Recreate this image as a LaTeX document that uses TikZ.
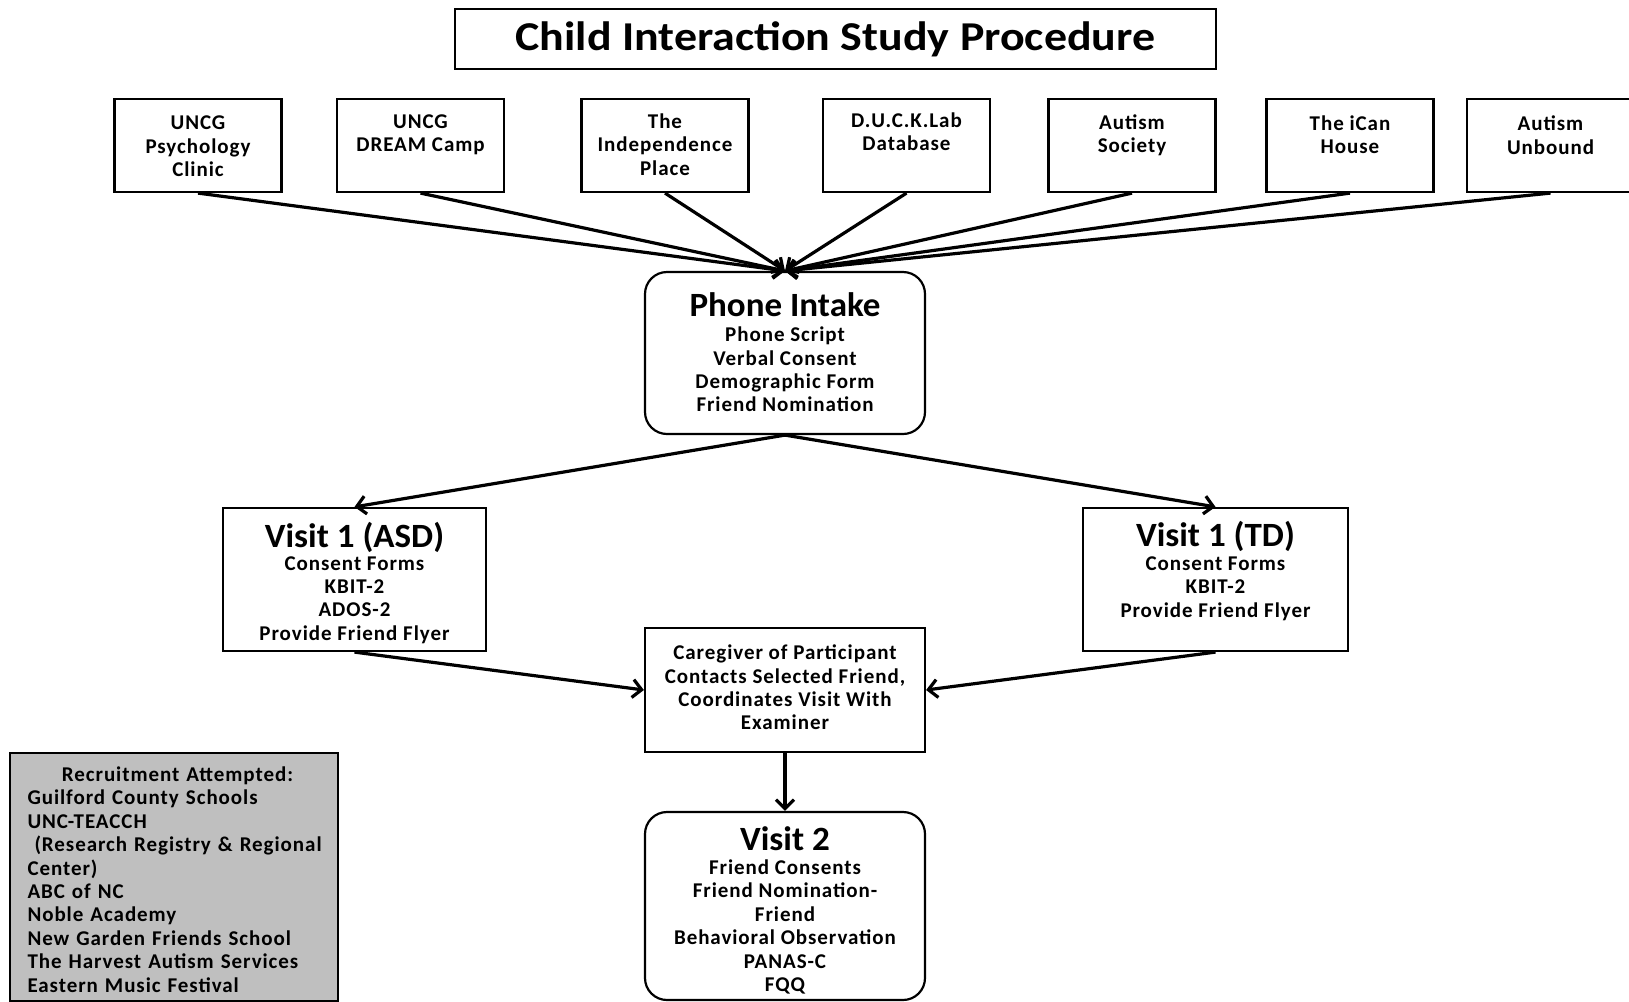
\documentclass[tikz,border=0pt]{standalone}
\usepackage{fontspec}
\setmainfont{Carlito}
\newfontfamily\bodyfont{Carlito}[LetterSpace=4.5]
\newfontfamily\headfont{Carlito}[FakeStretch=1.03]
\newfontfamily\titlefont{Carlito}[FakeStretch=1.12]
\usetikzlibrary{arrows.meta}

\begin{document}
\begin{tikzpicture}[x=0.5pt, y=-0.5pt,
	frame/.style={draw, line width=1.1pt, inner sep=0pt},
	srcbox/.style={frame, minimum width=83.5pt, minimum height=46.5pt},
	roundbox/.style={frame, rounded corners=11pt},
	txt/.style={align=center, inner sep=0pt, font=\bodyfont\bfseries\fontsize{10.5}{11.7}\selectfont},
	head/.style={inner sep=0pt, font=\headfont\bfseries\fontsize{17}{20}\selectfont},
	flow/.style={line width=1.6pt, -{Straight Barb[length=4.5pt,width=9pt]}}]
	\useasboundingbox (0,0) rectangle (1629,1002);
	% title
	\node[frame, minimum width=380.5pt, minimum height=30pt, font=\titlefont\bfseries\fontsize{20.5}{24}\selectfont] (title) at (835.5,39) {Child Interaction Study Procedure};
	% recruitment sources
	\node[srcbox] (clinic) at (198,145.5) {};
	\node[txt] at (198,146.5) {UNCG\\Psychology\\Clinic};
	\node[srcbox] (dream) at (420.5,145.5) {};
	\node[txt] at (420.5,135) {UNCG\\DREAM Camp};
	\node[srcbox] (place) at (665,145.5) {};
	\node[txt] at (665,144.5) {The\\Independence\\Place};
	\node[srcbox] (duck) at (906.5,145.5) {};
	\node[txt] at (906.5,131.5) {D.U.C.K.Lab\\Database};
	\node[srcbox] (society) at (1132,145.5) {};
	\node[txt] at (1132,135) {Autism\\Society};
	\node[srcbox] (ican) at (1350,145.5) {};
	\node[txt] at (1350,134.5) {The iCan\\House};
	\node[srcbox] (unbound) at (1550.5,145.5) {};
	\node[txt] at (1550.5,135) {Autism\\Unbound};
	% phone intake
	\node[roundbox, minimum width=140pt, minimum height=81pt] (intake) at (785,353) {};
	\node[head] at (785,305) {Phone Intake};
	\node[txt] at (785,369.5) {Phone Script\\Verbal Consent\\Demographic Form\\Friend Nomination};
	% first visits
	\node[frame, minimum width=131.5pt, minimum height=71.5pt] (asd) at (354.5,579.5) {};
	\node[head] at (354.5,537) {Visit 1 (ASD)};
	\node[txt] at (354.5,600) {Consent Forms\\KBIT-2\\ADOS-2\\Provide Friend Flyer};
	\node[frame, minimum width=132.5pt, minimum height=71.5pt] (td) at (1215.5,579.5) {};
	\node[head] at (1215.5,536) {Visit 1 (TD)};
	\node[txt] at (1215.5,588.5) {Consent Forms\\KBIT-2\\Provide Friend Flyer};
	% caregiver contact
	\node[frame, minimum width=140pt, minimum height=62pt] (contact) at (785,690) {};
	\node[txt] at (785,687.5) {Caregiver of Participant\\Contacts Selected Friend,\\Coordinates Visit With\\Examiner};
	% second visit
	\node[roundbox, minimum width=140pt, minimum height=94pt] (visit) at (785,906) {};
	\node[head] at (785,839) {Visit 2};
	\node[txt] at (785,927) {Friend Consents\\Friend Nomination-\\Friend\\Behavioral Observation\\PANAS-C\\FQQ};
	% other recruitment
	\node[frame, fill=gray!50, minimum width=164pt, minimum height=124pt] (other) at (174,877) {};
	\node[txt, align=left, text width=150pt] at (177.5,879.5) {\makebox[\linewidth][c]{Recruitment Attempted:}\\Guilford County Schools\\UNC-TEACCH\\\ (Research Registry \& Regional\\Center)\\ABC of NC\\Noble Academy\\New Garden Friends School\\The Harvest Autism Services\\Eastern Music Festival};
	% arrows
	\draw[flow] (clinic.south) -- (intake.north);
	\draw[flow] (dream.south) -- (intake.north);
	\draw[flow] (place.south) -- (intake.north);
	\draw[flow] (duck.south) -- (intake.north);
	\draw[flow] (society.south) -- (intake.north);
	\draw[flow] (ican.south) -- (intake.north);
	\draw[flow] (unbound.south) -- (intake.north);
	\draw[flow] (intake.south) -- (asd.north);
	\draw[flow] (intake.south) -- (td.north);
	\draw[flow] (asd.south) -- (contact.west);
	\draw[flow] (td.south) -- (contact.east);
	\draw[flow] (contact.south) -- (visit.north);
\end{tikzpicture}
\end{document}
